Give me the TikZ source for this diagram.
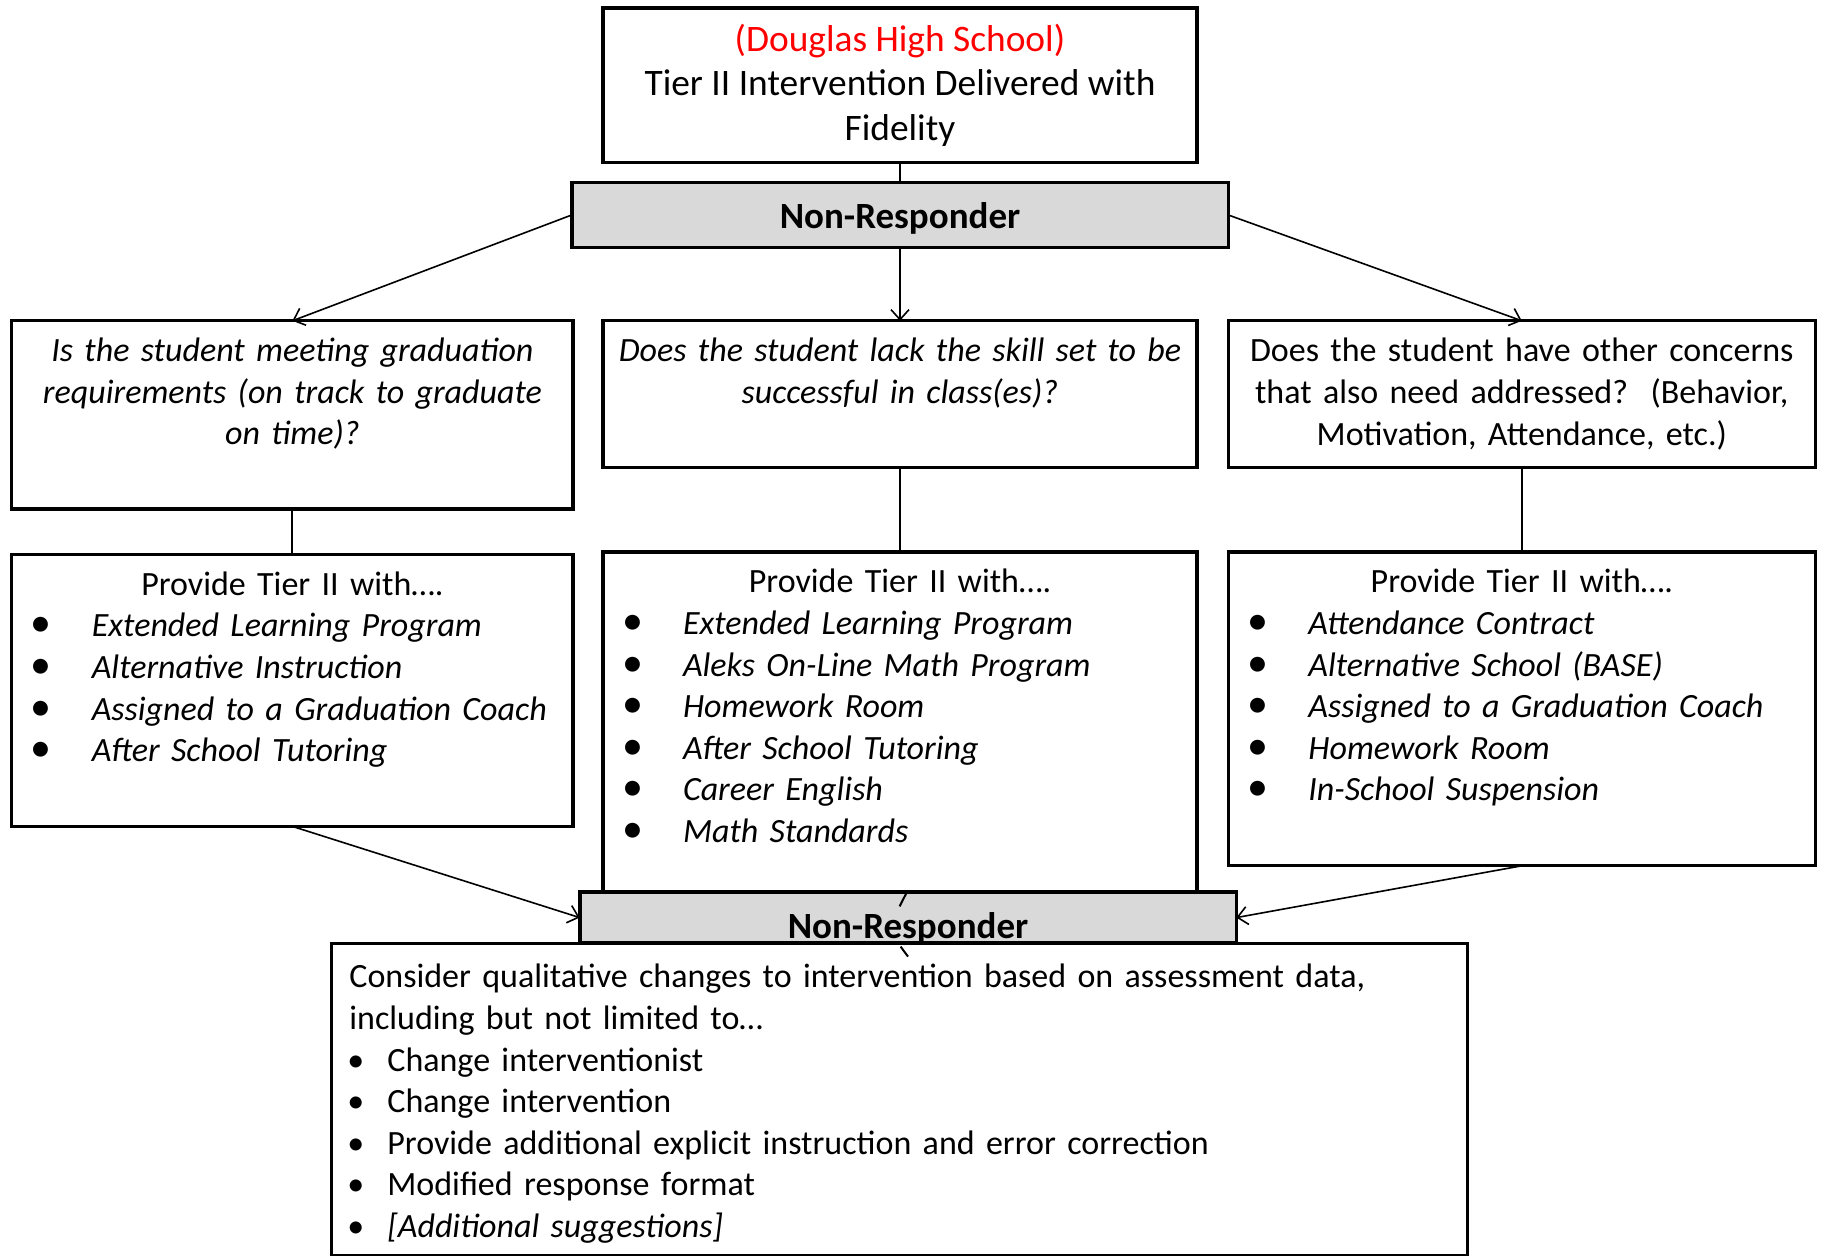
\documentclass[tikz,border=0pt]{standalone}
\usepackage{fontspec}
\setmainfont{Carlito}
\usepackage{tikz}
\usetikzlibrary{arrows.meta,positioning}
\definecolor{dhsRed}{HTML}{FF0000}
\definecolor{dhsGrey}{HTML}{D9D9D9}
\newcommand{\tieritem}[1]{\par\noindent\makebox[28pt][l]{\hspace*{-2.5pt}{\fontsize{21}{20.8}\selectfont •}}\textit{#1}}
\newcommand{\planitem}[1]{\par\noindent\hspace*{-1pt}\makebox[20pt][l]{•}#1}
\tikzset{
  box/.style={
    draw=black,
    line width=1.6pt,
    outer sep=0pt,
    fill=white,
    inner xsep=6pt,
    font=\fontsize{17}{20.8}\selectfont
  },
  titlebox/.style={
    box,
    align=center,
    minimum width=297pt,
    minimum height=77.3pt,
    font=\fontsize{18.7}{22.3}\selectfont
  },
  nrbox/.style={
    draw=black,
    line width=1.8pt,
    outer sep=0pt,
    fill=dhsGrey,
    inner sep=0pt,
    minimum width=328.3pt,
    font=\fontsize{18.5}{20.8}\selectfont\bfseries
  },
  askbox/.style={
    box,
    align=center,
    inner ysep=8.5pt,
    text height=12pt
  },
  askital/.style={
    askbox,
    font=\fontsize{17}{20.8}\selectfont\itshape
  },
  askplain/.style={
    box,
    align=center,
    minimum height=73.2pt
  },
  tierbox/.style={
    box,
    inner xsep=12pt,
    inner ysep=8.5pt,
    text height=12pt
  },
  planbox/.style={
    box,
    inner xsep=9pt,
    inner ysep=4pt,
    text height=16.5pt
  },
  link/.style={line width=1pt},
  arrow/.style={-{Straight Barb[length=5pt,width=9pt]}, line width=0.8pt}
}
\begin{document}
\begin{tikzpicture}
  \useasboundingbox (0,0) rectangle (911pt,-628pt);

  \node[titlebox] (top) at (450pt,-4pt) [anchor=north]
    {{\color{dhsRed}(Douglas High School)}\\ Tier II Intervention Delivered with\\ Fidelity};
  \node[nrbox, minimum height=32.6pt, text height=15pt, text depth=1.5pt, below=9.9pt of top] (nr1) {Non-Responder};

  % questions
  \node[askital, text width=285pt, text depth=44.2pt, below=36.6pt of nr1] (q2)
    {Does the student lack the skill set to be\\ successful in class(es)?};
  \node[askital, text width=268.6pt, text depth=65.1pt, left=15pt of q2.north west, anchor=north east] (q1)
    {Is the student meeting graduation\\ requirements (on track to graduate\\ on time)?};
  \node[askplain, text width=281.4pt, right=15.7pt of q2.north east, anchor=north west] (q3)
    {Does the student have other concerns\\ that also need addressed?\ \ (Behavior,\\ Motivation, Attendance, etc.)};

  % tier II supports
  \node[tierbox, text width=256.6pt, text depth=107pt, below=22.7pt of q1] (p1)
    {{\centering Provide Tier II with….\par}
     \tieritem{Extended Learning Program}
     \tieritem{Alternative Instruction}
     \tieritem{Assigned to a Graduation Coach}
     \tieritem{After School Tutoring}};
  \node[tierbox, text width=273pt, text depth=141pt, below=42.4pt of q2] (p2)
    {{\centering Provide Tier II with….\par}
     \tieritem{Extended Learning Program}
     \tieritem{Aleks On-Line Math Program}
     \tieritem{Homework Room}
     \tieritem{After School Tutoring}
     \tieritem{Career English}
     \tieritem{Math Standards}};
  \node[tierbox, text width=269.4pt, text depth=127.9pt, below=42.4pt of q3] (p3)
    {{\centering Provide Tier II with….\par}
     \tieritem{Attendance Contract}
     \tieritem{Alternative School (BASE)}
     \tieritem{Assigned to a Graduation Coach}
     \tieritem{Homework Room}
     \tieritem{In-School Suspension}};

  \node[nrbox, minimum height=25.6pt, text height=20.5pt, text depth=0pt, below=0pt of p2, xshift=4pt] (nr2) {Non-Responder};
  \node[planbox, text width=550pt, minimum height=156pt, below=0pt of nr2, xshift=-4.3pt] (plan)
    {\noindent Consider qualitative changes to intervention based on assessment data,\\
     including but not limited to…
     \planitem{Change interventionist}
     \planitem{Change intervention}
     \planitem{Provide additional explicit instruction and error correction}
     \planitem{Modified response format}
     \planitem{\textit{[Additional suggestions]}}};

  \draw[link] (top) -- (nr1);
  \draw[arrow] (nr1.west) -- (q1.north);
  \draw[arrow] (nr1) -- (q2);
  \draw[arrow] (nr1.east) -- (q3.north);
  \draw[link] (q1) -- (p1);
  \draw[link] (q2) -- (p2);
  \draw[link] (q3) -- (p3);
  \draw[arrow] (p1.south) -- (nr2.west);
  \draw[arrow] (p3.south) -- (nr2.east);
  \draw[link] ([shift={(-0.7pt,-0.3pt)}]nr2.north) -- ++(-3.5pt,-6.9pt);
  \draw[link] ([shift={(-3.7pt,-1.7pt)}]nr2.south) -- ++(3.7pt,-5pt);
\end{tikzpicture}
\end{document}
